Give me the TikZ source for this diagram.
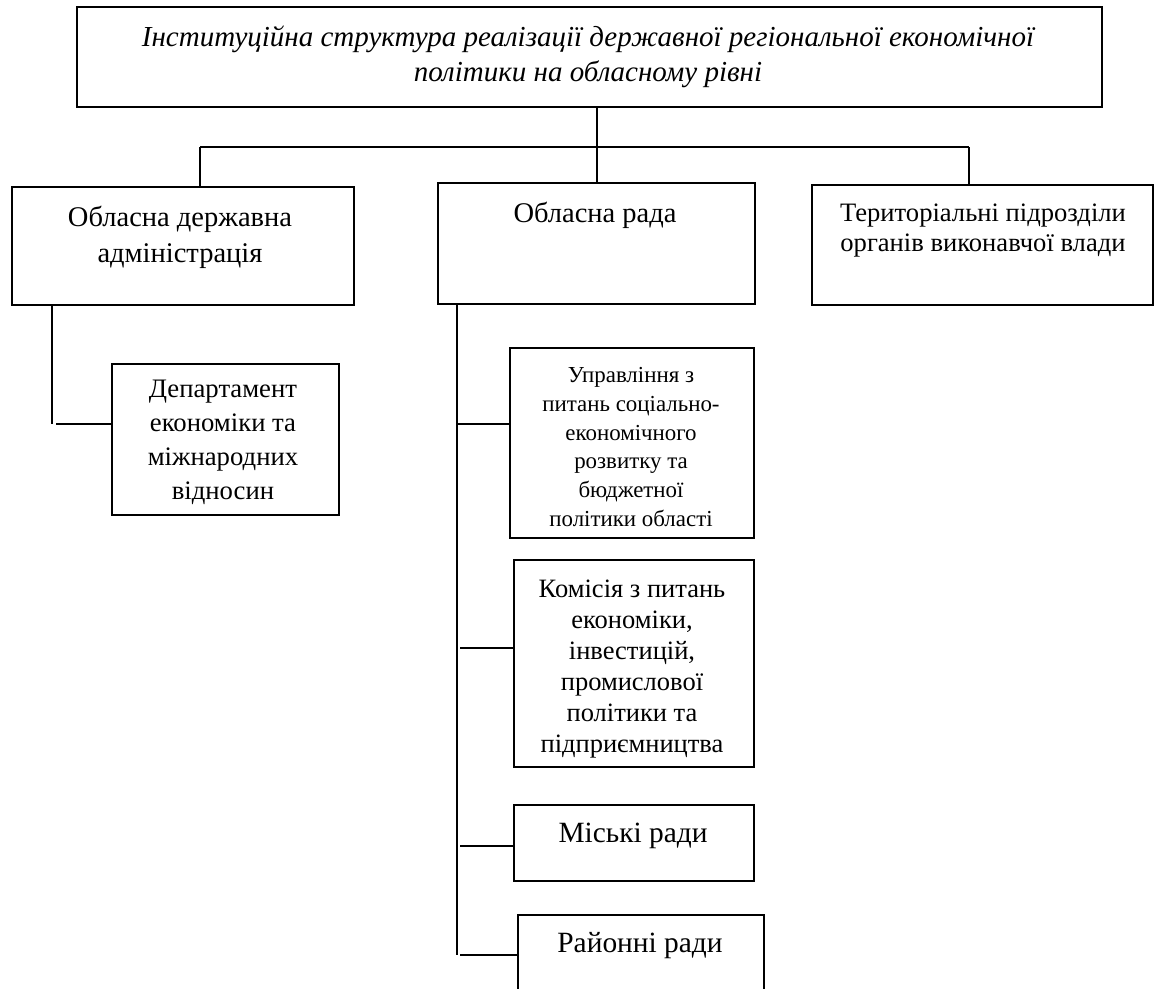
\documentclass[tikz,border=0pt]{standalone}
\usepackage{fontspec}
\setmainfont{Liberation Serif}
\begin{document}
\begin{tikzpicture}[x=1pt,y=-1pt,
  box/.style={draw, line width=1.8pt, inner sep=0pt, anchor=north west},
  conn/.style={line width=1.8pt},
  txt/.style={align=center, inner sep=0pt}]
\useasboundingbox (0,0) rectangle (1154,988);
\clip (0,0) rectangle (1154,988);
% boxes
\node[box, minimum width=1025pt, minimum height=100pt] (title) at (76,6) {};
\node[box, minimum width=342pt, minimum height=118pt] (oda) at (11,186) {};
\node[box, minimum width=317pt, minimum height=121pt] (rada) at (437,182) {};
\node[box, minimum width=341pt, minimum height=120pt] (ter) at (811,184) {};
\node[box, minimum width=227pt, minimum height=151pt] (dep) at (111,363) {};
\node[box, minimum width=244pt, minimum height=190pt] (upr) at (509,347) {};
\node[box, minimum width=240pt, minimum height=207pt] (kom) at (513,559) {};
\node[box, minimum width=240pt, minimum height=76pt] (misk) at (513,804) {};
\node[box, minimum width=246pt, minimum height=110pt] (rai) at (517,914) {};
% texts
\node[txt, font=\fontsize{29}{35}\selectfont\itshape] (titletxt) at (588,57)
  {Інституційна структура реалізації державної регіональної економічної\\політики на обласному рівні};
\node[txt, font=\fontsize{28.5}{36}\selectfont] (odatxt) at (180,237) {Обласна державна\\адміністрація};
\node[txt, font=\fontsize{28.5}{36}\selectfont] (radatxt) at (595,215) {Обласна рада};
\node[txt, font=\fontsize{26.6}{30}\selectfont] (tertxt) at (983,231) {Територіальні підрозділи\\органів виконавчої влади};
\node[txt, font=\fontsize{26.7}{34}\selectfont] (deptxt) at (223,442) {Департамент\\економіки та\\міжнародних\\відносин};
\node[txt, font=\fontsize{22.9}{28.7}\selectfont] (uprtxt) at (631,447) {Управління з\\питань соціально-\\економічного\\розвитку та\\бюджетної\\політики області};
\node[txt, font=\fontsize{26.5}{31}\selectfont] (komtxt) at (632,669) {Комісія з питань\\економіки,\\інвестицій,\\промислової\\політики та\\підприємництва};
\node[txt, font=\fontsize{29.4}{33}\selectfont] (misktxt) at (633,836) {Міські ради};
\node[txt, font=\fontsize{29.4}{33}\selectfont] (raitxt) at (640,946) {Районні ради};
% connectors
\coordinate (hub) at (597,147);
\coordinate (hl) at (200,147);
\coordinate (hr) at (969,147);
\draw[conn] (title.south -| hub) -- (rada.north -| hub);
\draw[conn] (hl) -- (hr);
\draw[conn] (hl) -- (hl |- oda.north);
\draw[conn] (hr) -- (hr |- ter.north);
\coordinate (odac) at (52,424);
\coordinate (odah) at (56,424);
\draw[conn] (oda.south -| odac) -- (odac);
\draw[conn] (odah) -- (odah -| dep.west);
\coordinate (radac) at (457,955);
\draw[conn] (rada.south -| radac) -- (radac);
\coordinate (cu) at (456,424);
\coordinate (ck) at (460,648);
\coordinate (cm) at (460,846);
\coordinate (cr) at (460,955);
\draw[conn] (cu) -- (cu -| upr.west);
\draw[conn] (ck) -- (ck -| kom.west);
\draw[conn] (cm) -- (cm -| misk.west);
\draw[conn] (cr) -- (cr -| rai.west);
\end{tikzpicture}
\end{document}
